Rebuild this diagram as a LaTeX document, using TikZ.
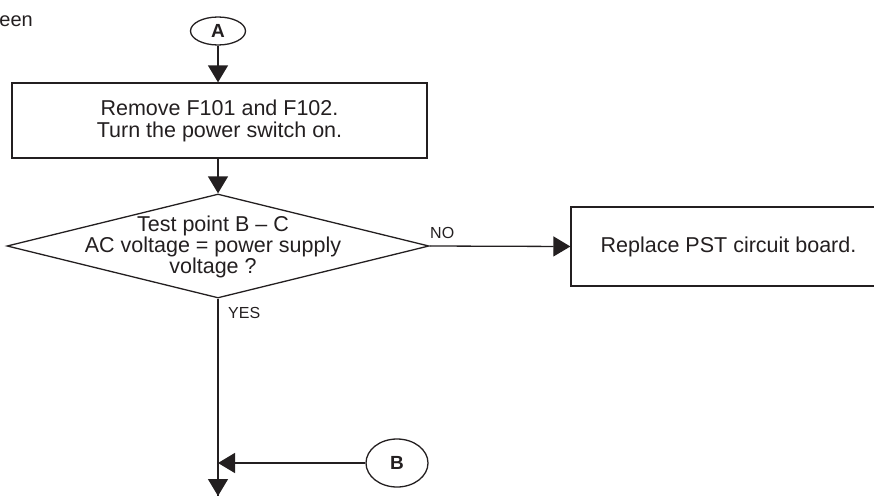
\documentclass[tikz,border=0pt]{standalone}
\usepackage{fontspec}
\setmainfont{Liberation Sans}
\usetikzlibrary{shapes.geometric,arrows.meta}
\definecolor{ink}{HTML}{231F20}
\tikzset{
  ln/.style={draw=ink, line width=1.3pt},
  arr/.style={ln, -{Triangle[length=17pt,width=20pt]}},
  procbox/.style={ln, rectangle, inner sep=0pt, align=center, text=ink,
    font=\fontsize{21.5}{22}\selectfont},
  conn/.style={ln, ellipse, inner sep=0pt, text=ink,
    font=\fontsize{19}{20}\selectfont\bfseries},
  decbox/.style={ln, diamond, inner sep=0pt},
  lbl/.style={text=ink, inner sep=0pt, font=\fontsize{16}{18}\selectfont},
  body/.style={text=ink, inner sep=0pt, align=center,
    font=\fontsize{21.5}{19.5}\selectfont}
}
\begin{document}
\begin{tikzpicture}[x=1pt,y=-1pt]
\useasboundingbox (0,0) rectangle (874,495);
\node[text=ink, inner sep=0pt, anchor=base east, font=\fontsize{20}{22}\selectfont] (een) at (33,27) {een};
\node[conn, minimum width=55pt, minimum height=28pt] (A) at (218,31) {A};
\node[procbox, minimum width=415pt, minimum height=75pt] (box) at (219.5,120.5)
  {Remove F101 and F102.\\Turn the power switch on.};
\node[decbox, minimum width=422pt, minimum height=104pt] (dec) at (218,246) {};
\node[body] (dectext) at (213,247) {Test point B -- C\\AC voltage = power supply\\voltage ?};
\node[procbox, minimum width=315pt, minimum height=79pt] (rep) at (728.5,246.5)
  {Replace PST circuit board.};
\node[lbl, anchor=base west] (no) at (430,238) {NO};
\node[lbl, anchor=base west] (yes) at (228,318) {YES};
\node[conn, minimum width=62pt, minimum height=48pt] (B) at (397,463) {B};
\coordinate (end) at (218,496);
\draw[ln] (dec.south) -- (end);
\draw[arr] (A.south) -- (A.south |- box.north);
\draw[arr] (dec.north |- box.south) -- (dec.north);
\draw[arr] (dec.east) -- (rep.west);
\draw[arr] (dec.south) -- (end);
\draw[arr] (B.west) -- (B.west -| dec.south);
\end{tikzpicture}
\end{document}
